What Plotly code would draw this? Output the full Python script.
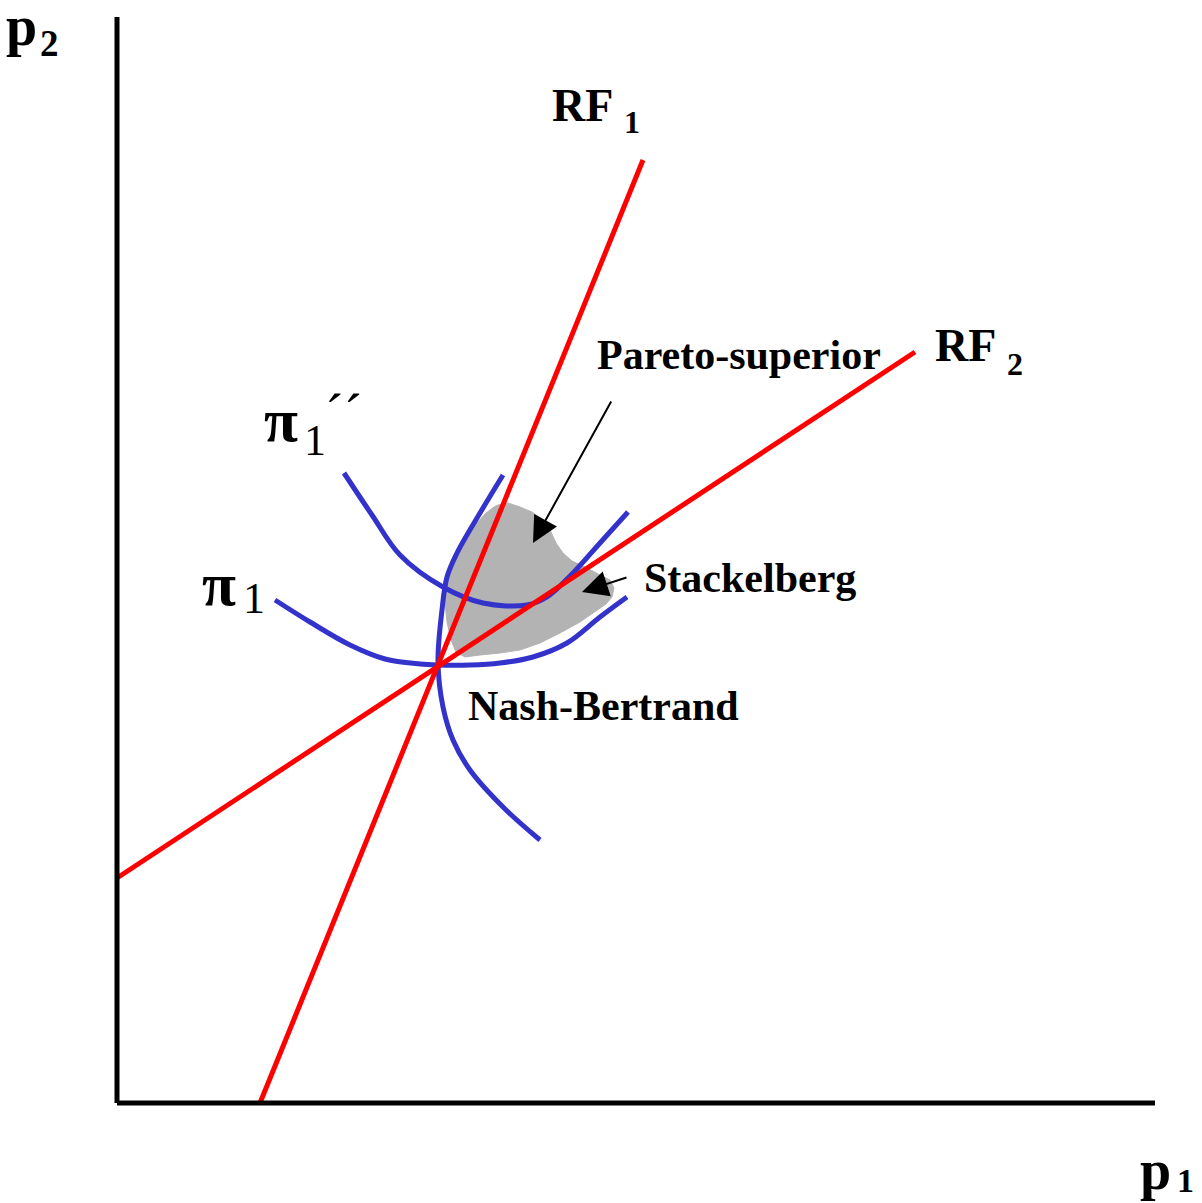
import plotly.graph_objects as go

# Diagram coordinates (units match the drawing area; y grows downward)
axis_vert_x = [117, 117]
axis_vert_y = [17, 1103]
axis_horiz_x = [117, 1155]
axis_horiz_y = [1103, 1103]

rf1_x = [260, 643]
rf1_y = [1103, 160]
rf2_x = [117, 915]
rf2_y = [878, 352]

pi1_x = [275, 310, 350, 385, 420, 437, 470, 500, 533, 567, 600, 627]
pi1_y = [600, 622, 645, 659, 664, 665, 665, 663, 657, 643, 617, 597]

pi1pp_x = [344, 372, 400, 443, 483, 527, 547, 573, 600, 628]
pi1pp_y = [473, 515, 555, 587, 603, 605, 597, 573, 543, 512]

pi2_x = [503, 480, 457, 447, 442, 438, 443, 453, 470, 503, 540]
pi2_y = [475, 513, 553, 577, 610, 662, 707, 740, 770, 807, 840]

blob_x = [498, 508, 520, 532, 543, 550, 556, 563, 572, 585, 598, 610, 614, 612, 606, 595, 580, 560,
          540, 520, 500, 480, 465, 456, 451, 447, 445, 446, 450, 457, 466, 476, 486, 494, 498]
blob_y = [505, 503, 507, 512, 520, 530, 543, 553, 561, 567, 574, 580, 588, 597, 604, 612, 622, 633,
          643, 650, 653, 655, 657, 652, 640, 622, 603, 585, 568, 552, 537, 524, 513, 507, 505]

RED = "#ff0000"
BLUE = "#3333cc"
GRAY = "#b3b3b3"
FONT = "Liberation Serif"

fig = go.Figure()
fig.add_trace(go.Scatter(x=blob_x, y=blob_y, mode="lines", fill="toself", fillcolor=GRAY,
                         line=dict(color=GRAY, width=1), hoverinfo="skip"))
for xs, ys in [(pi1_x, pi1_y), (pi1pp_x, pi1pp_y), (pi2_x, pi2_y)]:
    fig.add_trace(go.Scatter(x=xs, y=ys, mode="lines",
                             line=dict(color=BLUE, width=5, shape="spline"), hoverinfo="skip"))
for xs, ys in [(rf1_x, rf1_y), (rf2_x, rf2_y)]:
    fig.add_trace(go.Scatter(x=xs, y=ys, mode="lines", line=dict(color=RED, width=5), hoverinfo="skip"))
for xs, ys in [(axis_vert_x, axis_vert_y), (axis_horiz_x, axis_horiz_y)]:
    fig.add_trace(go.Scatter(x=xs, y=ys, mode="lines", line=dict(color="black", width=5), hoverinfo="skip"))

def txt(x, y, s, size, bold=True, xanchor="left"):
    fig.add_annotation(x=x, y=y, text=f"<b>{s}</b>" if bold else s, showarrow=False,
                       xanchor=xanchor, yanchor="middle", borderpad=0,
                       font=dict(family=FONT, size=size, color="black"))

# axis titles
txt(5, 26, "p", 56)
txt(39, 43, "2", 37)
txt(1139, 1170, "p", 56)
txt(1176, 1180, "1", 34)
# reaction functions
txt(551, 105, "RF", 46)
txt(623, 122, "1", 32)
txt(934, 345, "RF", 46)
txt(1006, 364, "2", 32)
# iso-profit labels
txt(201, 584, "π", 62)
txt(242, 598, "1", 44, bold=False)
txt(263, 420, "π", 62)
txt(303, 440, "1", 44, bold=False)
txt(324, 414, "´´", 56, bold=False)
# region labels
txt(596, 355, "Pareto-superior", 42)
txt(643, 578, "Stackelberg", 42)
txt(467, 706, "Nash-Bertrand", 42)

fig.add_annotation(x=533, y=543, ax=612, ay=400, axref="x", ayref="y", xref="x", yref="y",
                   text="", showarrow=True, arrowhead=2, arrowsize=2.6, arrowwidth=2, arrowcolor="black")
fig.add_annotation(x=582, y=592, ax=628, ay=577, axref="x", ayref="y", xref="x", yref="y",
                   text="", showarrow=True, arrowhead=2, arrowsize=2.6, arrowwidth=2, arrowcolor="black")

fig.update_layout(width=1202, height=1203, margin=dict(l=0, r=0, t=0, b=0),
                  plot_bgcolor="white", paper_bgcolor="white", showlegend=False,
                  xaxis=dict(range=[0, 1202], visible=False, fixedrange=True),
                  yaxis=dict(range=[1203, 0], visible=False, fixedrange=True))
fig.write_html("out.html", config={"displayModeBar": False},
               post_script="document.body.style.margin='0px';document.body.style.overflow='hidden';")
